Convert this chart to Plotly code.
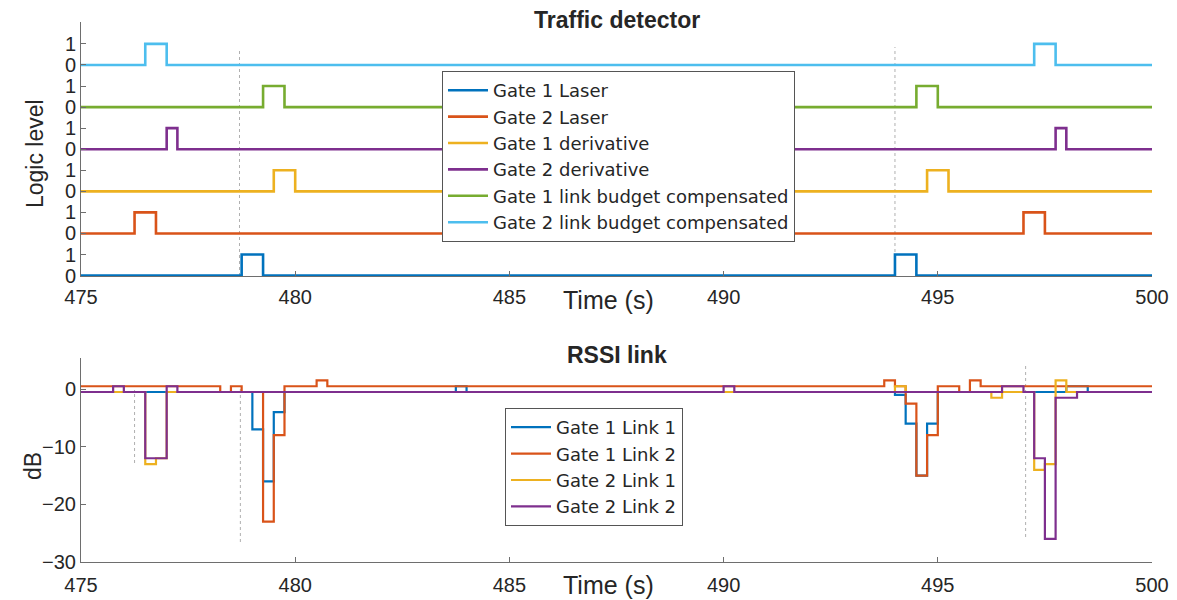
import plotly.graph_objects as go

# ---------------- data ----------------
t_start, t_end = 475, 500

# Traffic detector: pulse on / off times (s) for each logic channel
logic_names = ["Gate 1 Laser", "Gate 2 Laser", "Gate 1 derivative", "Gate 2 derivative",
               "Gate 1 link budget compensated", "Gate 2 link budget compensated"]
logic_on = [[478.75, 494.0], [476.25, 497.0], [479.5, 494.75], [477.0, 497.75],
            [479.25, 494.5], [476.5, 497.25]]
logic_off = [[479.25, 494.5], [476.75, 497.5], [480.0, 495.25], [477.25, 498.0],
             [479.75, 495.0], [477.0, 497.75]]
logic_offsets = [0, 2, 4, 6, 8, 10]
logic_tickvals = list(range(12))
logic_ticktext = ["0", "1", "0", "1", "0", "1", "0", "1", "0", "1", "0", "1"]

# RSSI link: step change times (s) and values (dB)
g1l1_t = [475, 479.0, 479.25, 479.5, 479.75, 483.75, 484.0, 494.0, 494.25, 494.5, 494.75, 495.0, 498.0, 498.5, 500]
g1l1_v = [-0.5, -7, -16, -4, -0.5, 0.5, -0.5, -1, -6, -15, -6, -0.5, 0.5, -0.5, -0.5]

g1l2_t = [475, 478.25, 478.5, 478.75, 479.25, 479.5, 479.75, 480.5, 480.75, 493.75, 494.0, 494.25, 494.5,
          494.75, 495.0, 495.5, 495.75, 496.0, 500]
g1l2_v = [0.5, -0.5, 0.5, -0.5, -23, -8, 0.5, 1.5, 0.5, 1.5, 0.5, -2.5, -15, -8, 0.5, -0.5, 1.5, 0.5, 0.5]

g2l1_t = [475, 476.5, 476.75, 477.0, 494.0, 494.25, 496.25, 496.5, 497.25, 497.5, 497.75, 498.0, 500]
g2l1_v = [-0.5, -13, -12, -0.5, 0.5, -0.5, -1.5, -0.5, -14, -13, 1.5, -0.5, -0.5]

g2l2_t = [475, 475.75, 476.0, 476.5, 477.0, 477.25, 490.0, 490.25, 496.5, 497.0, 497.25, 497.5, 497.75, 498.25, 500]
g2l2_v = [-0.5, 0.5, -0.5, -12, 0.5, -0.5, 0.5, -0.5, 0.5, -0.5, -12, -26, -1.5, -0.5, -0.5]

rssi_names = ["Gate 1 Link 1", "Gate 1 Link 2", "Gate 2 Link 1", "Gate 2 Link 2"]
x_ticks = [475, 480, 485, 490, 495, 500]
x_ticktext = ["475", "480", "485", "490", "495", "500"]
rssi_ticks = [-30, -20, -10, 0]

# ---------------- styles ----------------
logic_colors = ["#0072BD", "#D95319", "#EDB120", "#7E2F8E", "#77AC30", "#4DBEEE"]
rssi_colors = ["#0072BD", "#D95319", "#EDB120", "#7E2F8E"]
FONT = "Liberation Sans, Arial, Helvetica, sans-serif"
LEGFONT = "DejaVu Sans, Liberation Sans, sans-serif"
TXT = "#262626"
AX = "#6e6e6e"

# the page has an 8px body margin: figure starts at (8, 8) and ends at the window edge
OFF = 8
W, H = 1177 - OFF, 600 - OFF
PL, PR = 81, 1152  # plot area left/right in page px


def px(x):
    return (x - PL) / (PR - PL)


def py(y):
    return 1 - (y - OFF) / H


fig = go.Figure()

for name, ons, offs, off0, col in zip(logic_names, logic_on, logic_off, logic_offsets, logic_colors):
    xs, ys = [t_start], [off0]
    for a, b in zip(ons, offs):
        xs += [a, b]
        ys += [off0 + 1, off0]
    xs.append(t_end)
    ys.append(off0)
    fig.add_trace(go.Scatter(x=xs, y=ys, mode="lines", name=name, line=dict(color=col, width=2.6, shape="hv"),
                             xaxis="x", yaxis="y", legend="legend"))

for name, ts, vs, col in zip(rssi_names, [g1l1_t, g1l2_t, g2l1_t, g2l2_t], [g1l1_v, g1l2_v, g2l1_v, g2l2_v], rssi_colors):
    fig.add_trace(go.Scatter(x=ts, y=vs, mode="lines", name=name, line=dict(color=col, width=2.2, shape="hv"),
                             xaxis="x2", yaxis="y2", legend="legend2"))

axis_common = dict(showline=True, linecolor=AX, linewidth=1, ticks="inside", ticklen=5, tickcolor=AX,
                   showgrid=False, zeroline=False, automargin=False,
                   tickfont=dict(family=FONT, size=20, color=TXT))

fig.update_layout(
    width=W, height=H,
    margin=dict(l=PL - OFF, r=1177 - PR, t=0, b=0, autoexpand=False),
    paper_bgcolor="white", plot_bgcolor="white",
    font=dict(family=FONT, color=TXT),
    xaxis=dict(domain=[0, 1], anchor="y", range=[t_start, t_end], tickvals=x_ticks, ticktext=x_ticktext,
               ticklabelstandoff=3, **axis_common),
    yaxis=dict(domain=[py(276), py(22)], anchor="x", range=[-0.02, 12.04],
               tickvals=logic_tickvals, ticktext=logic_ticktext, **axis_common),
    xaxis2=dict(domain=[0, 1], anchor="y2", range=[t_start, t_end], tickvals=x_ticks, ticktext=x_ticktext,
                ticklabelstandoff=5, **axis_common),
    yaxis2=dict(domain=[py(562), py(358)], anchor="x2", range=[-30, 5.4],
                tickvals=rssi_ticks, **axis_common),
    legend=dict(x=px(442), y=py(71), xanchor="left", yanchor="top",
                bgcolor="white", bordercolor="#555555", borderwidth=1,
                font=dict(family=LEGFONT, size=18, color=TXT), itemwidth=40, tracegroupgap=0),
    legend2=dict(x=px(505), y=py(408), xanchor="left", yanchor="top",
                 bgcolor="white", bordercolor="#555555", borderwidth=1,
                 font=dict(family=LEGFONT, size=18, color=TXT), itemwidth=40, tracegroupgap=0),
    showlegend=True,
)

# faint dotted marker lines
marker_lines = [("x", 478.7, 50, 276), ("x", 494.0, 47, 276),
                ("x2", 476.25, 390, 463), ("x2", 478.72, 389, 542), ("x2", 497.05, 363, 537)]
for xr, xv, py0, py1 in marker_lines:
    fig.add_shape(type="line", xref=xr, yref="paper", x0=xv, x1=xv, y0=py(py1), y1=py(py0),
                  line=dict(color="#b0b0b0", width=1, dash="dot"), layer="below")

ann = [
    dict(text="<b>Traffic detector</b>", x=617, y=20, size=23),
    dict(text="<b>RSSI link</b>", x=617, y=355, size=23),
    dict(text="Time (s)", x=608, y=300, size=25),
    dict(text="Time (s)", x=608, y=585, size=25),
]
for a in ann:
    fig.add_annotation(text=a["text"], xref="paper", yref="paper", x=px(a["x"]), y=py(a["y"]),
                       showarrow=False, xanchor="center", yanchor="middle",
                       font=dict(family=FONT, size=a["size"], color=TXT))
fig.add_annotation(text="Logic level", xref="paper", yref="paper", x=px(35), y=py(154),
                   showarrow=False, textangle=-90, xanchor="center", yanchor="middle",
                   font=dict(family=FONT, size=23, color=TXT))
fig.add_annotation(text="dB", xref="paper", yref="paper", x=px(33), y=py(466),
                   showarrow=False, textangle=-90, xanchor="center", yanchor="middle",
                   font=dict(family=FONT, size=23, color=TXT))

fig.write_html("out.html")
